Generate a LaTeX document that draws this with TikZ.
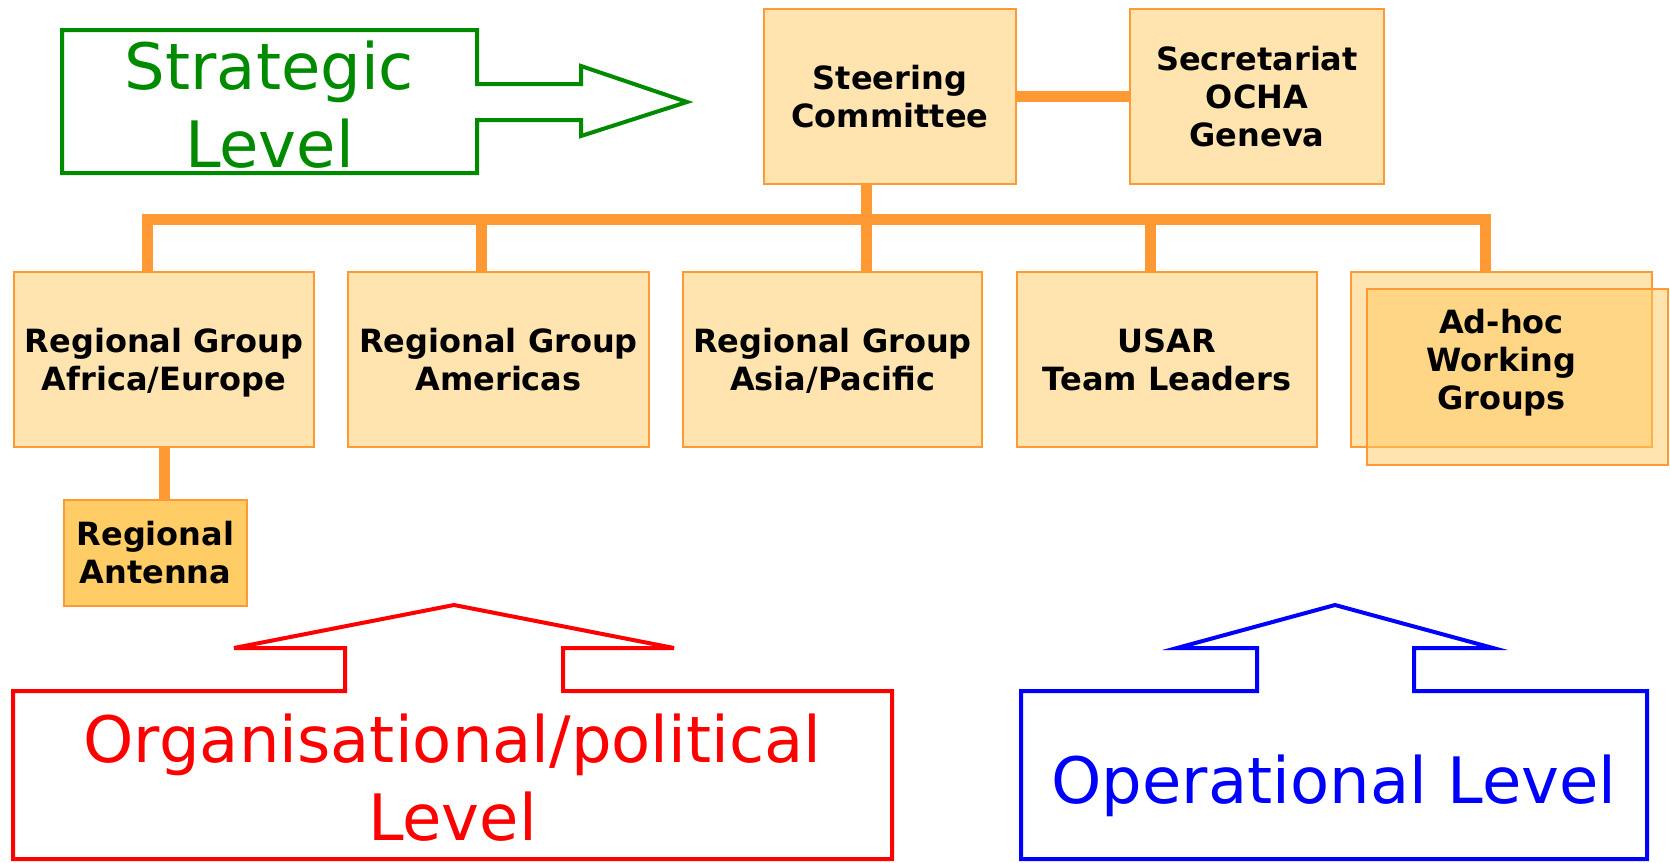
\documentclass[tikz,border=0pt]{standalone}
\usepackage{fontspec}
\setmainfont{DejaVu Sans}
\definecolor{boxfill}{HTML}{FFE4B0}
\definecolor{adfill}{HTML}{FFC75A}
\definecolor{antfill}{HTML}{FFCC66}
\definecolor{orangeline}{HTML}{FF9933}
\definecolor{stratgreen}{HTML}{008A00}
\definecolor{levred}{HTML}{FF0000}
\definecolor{levblue}{HTML}{0000FF}
\begin{document}
\begin{tikzpicture}[x=1pt,y=1pt,
  orgbox/.style={draw=orangeline, line width=2pt, fill=boxfill, inner sep=0pt,
    font=\bfseries\fontsize{32}{38}\selectfont, align=center, text=black},
  conn/.style={draw=orangeline, line width=11pt},
  bigtext/.style={font=\fontsize{64}{78}\selectfont, align=center, inner sep=0pt},
  levshape/.style={line width=4pt}
]
\path[use as bounding box] (0,0) rectangle (1670,-862);

% level shapes
\draw[levshape, draw=stratgreen] (62,-30) -- (477,-30) -- (477,-84) -- (581,-84) -- (581,-66)
  -- (687,-102) -- (581,-136) -- (581,-120) -- (477,-120) -- (477,-173) -- (62,-173) -- cycle;
\node[bigtext, text=stratgreen] (stxt) at (269.5,-104.3) {Strategic\\Level};

\draw[levshape, draw=levred] (13,-691) -- (345,-691) -- (345,-648) -- (234,-648) -- (454,-605)
  -- (674,-648) -- (563,-648) -- (563,-691) -- (892,-691) -- (892,-859) -- (13,-859) -- cycle;
\node[bigtext, text=levred] (otxt) at (452.5,-777.7) {Organisational/political\\Level};

\draw[levshape, draw=levblue] (1021,-691) -- (1257,-691) -- (1257,-648) -- (1177,-648) -- (1335,-605)
  -- (1493,-648) -- (1414,-648) -- (1414,-691) -- (1647,-691) -- (1647,-859) -- (1021,-859) -- cycle;
\node[bigtext, text=levblue, anchor=base] (optxt) at (1334,-803) {Operational Level};

% junction coordinates on the bus
\coordinate (jA) at (147,-219.5);
\coordinate (jB) at (481,-219.5);
\coordinate (jS) at (866,-219.5);
\coordinate (jD) at (1150,-219.5);
\coordinate (jE) at (1485,-219.5);

% boxes
\node[orgbox, minimum width=252pt, minimum height=175pt] (steer) at (890,-96.5) {Steering\\Committee};
\node[orgbox, minimum width=254pt, minimum height=175pt] (sec) at (1257,-96.5) {Secretariat\\OCHA\\Geneva};
\node[orgbox, minimum width=300pt, minimum height=175pt] (rg1) at (164,-359.5) {Regional Group\\\smash{Africa/Europe}};
\node[orgbox, minimum width=301pt, minimum height=175pt] (rg2) at (498.5,-359.5) {Regional Group\\Americas};
\node[orgbox, minimum width=299pt, minimum height=175pt] (rg3) at (832.5,-359.5) {Regional Group\\\smash{Asia/Pacific}};
\node[orgbox, minimum width=300pt, minimum height=175pt] (rg4) at (1167,-359.5) {USAR\\Team Leaders};
\node[orgbox, minimum width=301pt, minimum height=175pt] (adhoc) at (1501.5,-359.5) {};
\node[orgbox, fill=adfill, fill opacity=0.48, minimum width=301pt, minimum height=176pt] (adhoc2) at (1517.5,-377) {};
\node[orgbox, draw=none, fill=none] (adtxt) at (adhoc.center) {Ad-hoc\\Working\\\smash{Groups}};
\node[orgbox, fill=antfill, minimum width=183pt, minimum height=106pt] (ant) at (155.5,-552.5) {Regional\\Antenna};

% connectors
\draw[conn] (steer.east) -- (sec.west);
\draw[conn] (steer.south -| jS) -- (rg3.north -| jS);
\draw[conn] (rg1.north -| jA) -- (jA) -- (jE) -- (adhoc.north -| jE);
\draw[conn] (jB) -- (rg2.north -| jB);
\draw[conn] (jD) -- (rg4.north -| jD);
\draw[conn] (rg1.south) -- (rg1.south |- ant.north);
\end{tikzpicture}
\end{document}
